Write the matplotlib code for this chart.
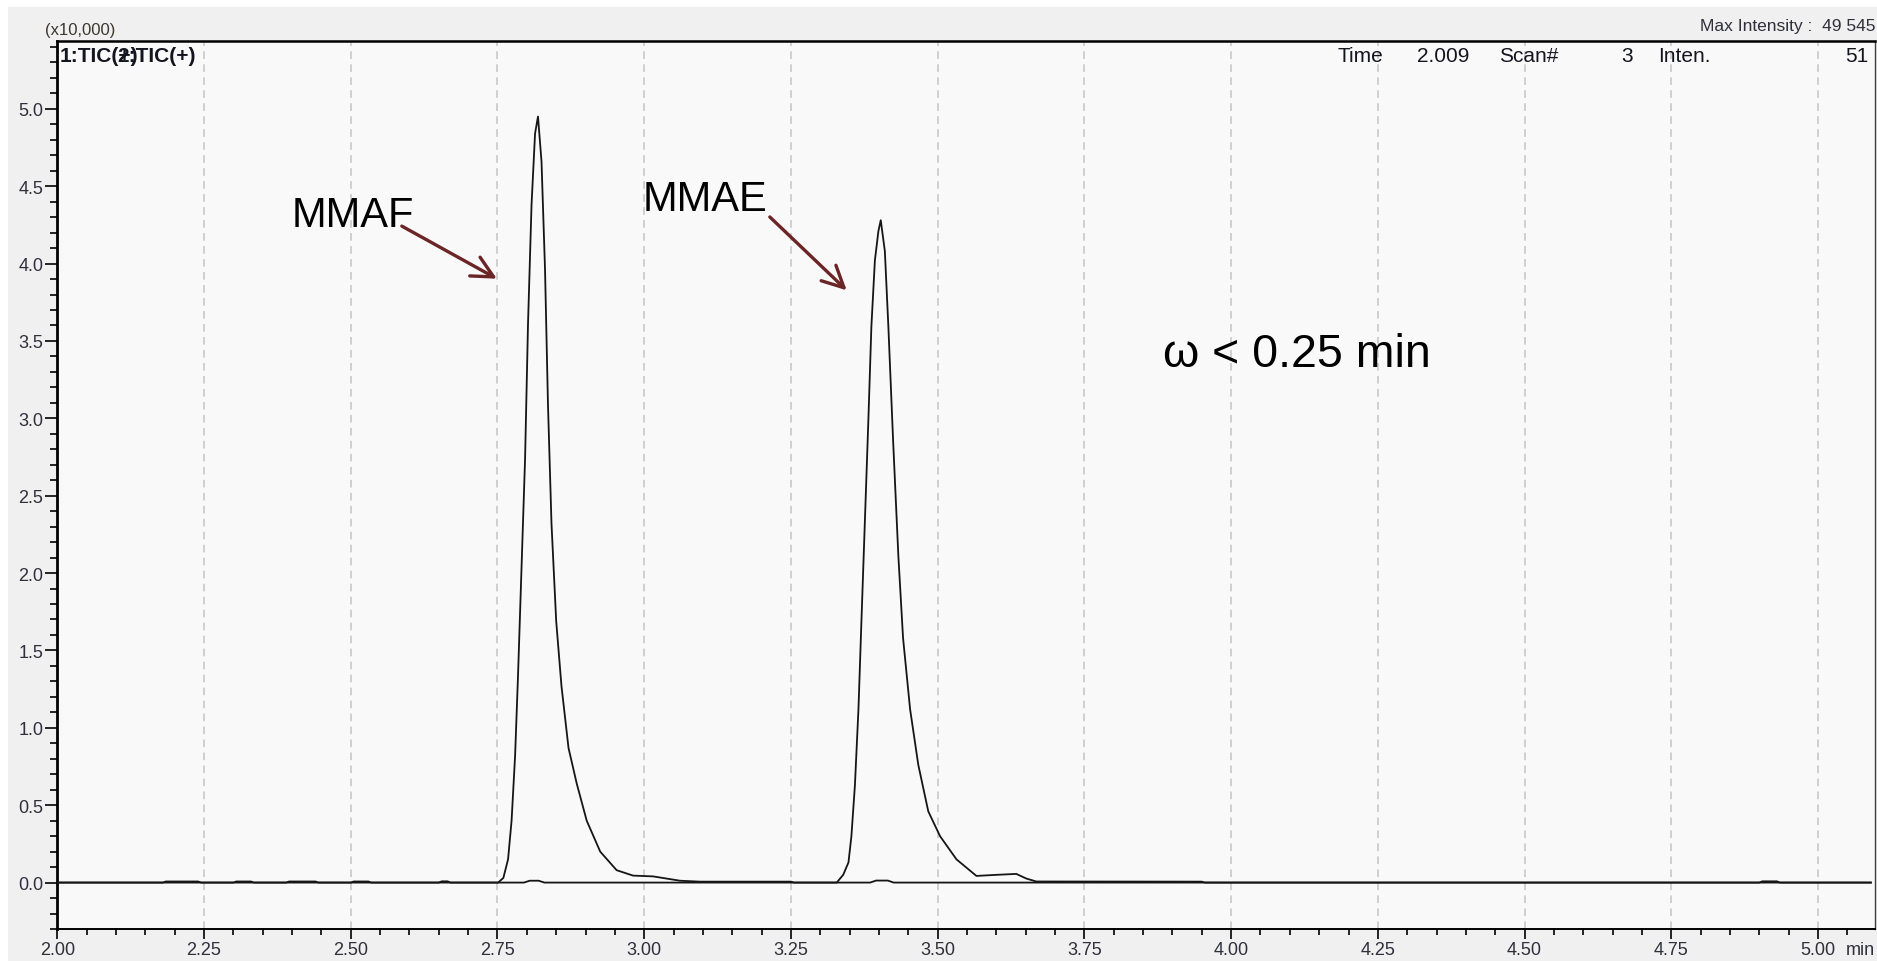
import matplotlib
matplotlib.use("Agg")
import matplotlib.pyplot as plt
from matplotlib.patches import Rectangle
from matplotlib.ticker import MultipleLocator, FormatStrFormatter

plt.rcParams['font.family'] = ['Liberation Sans', 'DejaVu Sans']

W, H = 1877, 962

# TIC 1 (MMAF), intensity in units of 10,000
mmaf_time = [2.00, 2.180, 2.185, 2.240, 2.245, 2.390, 2.395, 2.440, 2.445,
             2.650, 2.655, 2.665, 2.670, 2.751, 2.760, 2.768, 2.774, 2.780,
             2.785, 2.791, 2.797, 2.802, 2.808, 2.814, 2.819, 2.825, 2.831,
             2.836, 2.842, 2.850, 2.859, 2.871, 2.885, 2.902, 2.925, 2.953,
             2.981, 3.015, 3.061, 3.095, 3.250, 3.255, 3.385, 3.395, 3.415,
             3.425, 4.900, 4.905, 4.930, 4.935, 5.090]
mmaf_inten = [0.0, 0.0, 0.007, 0.007, 0.0, 0.0, 0.007, 0.007, 0.0,
              0.0, 0.008, 0.008, 0.0, 0.0, 0.03, 0.15, 0.40, 0.82,
              1.34, 2.04, 2.74, 3.61, 4.38, 4.84, 4.95, 4.66, 3.96,
              3.09, 2.32, 1.69, 1.27, 0.87, 0.64, 0.40, 0.20, 0.08,
              0.045, 0.04, 0.012, 0.006, 0.006, 0.0, 0.0, 0.013, 0.013,
              0.0, 0.0, 0.008, 0.008, 0.0, 0.0]

# TIC 2 (MMAE)
mmae_time = [2.00, 2.300, 2.305, 2.330, 2.335, 2.500, 2.505, 2.530, 2.535,
             2.795, 2.805, 2.820, 2.830, 3.328, 3.339, 3.348, 3.353, 3.359,
             3.365, 3.370, 3.376, 3.382, 3.387, 3.393, 3.399, 3.403, 3.410,
             3.416, 3.424, 3.433, 3.441, 3.453, 3.467, 3.484, 3.504, 3.532,
             3.566, 3.600, 3.634, 3.651, 3.668, 3.950, 3.955, 5.090]
mmae_inten = [0.0, 0.0, 0.007, 0.007, 0.0, 0.0, 0.007, 0.007, 0.0,
              0.0, 0.012, 0.012, 0.0, 0.0, 0.05, 0.13, 0.30, 0.63,
              1.12, 1.68, 2.34, 3.00, 3.59, 4.02, 4.21, 4.28, 4.08,
              3.59, 2.86, 2.11, 1.58, 1.12, 0.76, 0.46, 0.30, 0.15,
              0.043, 0.05, 0.056, 0.026, 0.007, 0.006, 0.0, 0.0]

# peak labels: (text, text position, arrow start, arrow tip)
peak_labels = [
    ("MMAF", (2.399, 4.242), (2.587, 4.242), (2.749, 3.902)),
    ("MMAE", (2.998, 4.343), (3.214, 4.301), (3.345, 3.827)),
]

fig = plt.figure(figsize=(W / 100, H / 100), dpi=100)
fig.patch.set_facecolor('white')
fig.add_artist(Rectangle((8 / W, 0), 1, 1 - 8 / H, transform=fig.transFigure,
                         facecolor='#f0f0f0', edgecolor='none', zorder=-5))

ax = fig.add_axes([57.3 / W, 1 - 930 / H, (1875 - 57.3) / W, (930 - 41.7) / H])
ax.set_facecolor('#f9f9f9')

ax.plot(mmaf_time, mmaf_inten, color='#151515', lw=1.3, zorder=3)
ax.plot(mmae_time, mmae_inten, color='#151515', lw=1.3, zorder=3)

ax.set_xlim(2.0, 5.097)
ax.set_ylim(-0.30, 5.44)

ax.xaxis.set_major_locator(MultipleLocator(0.25))
ax.xaxis.set_minor_locator(MultipleLocator(0.05))
ax.yaxis.set_major_locator(MultipleLocator(0.5))
ax.yaxis.set_minor_locator(MultipleLocator(0.1))
ax.xaxis.set_major_formatter(FormatStrFormatter('%.2f'))
ax.yaxis.set_major_formatter(FormatStrFormatter('%.1f'))

ax.tick_params(axis='both', which='both', direction='out', color='black',
               labelcolor='#30303c', labelsize=13, width=1.2)
ax.tick_params(axis='x', which='major', length=7, pad=2)
ax.tick_params(axis='x', which='minor', length=4)
ax.tick_params(axis='y', which='major', length=9, pad=1)
ax.tick_params(axis='y', which='minor', length=5)

for x in [2.25, 2.50, 2.75, 3.00, 3.25, 3.50, 3.75, 4.00, 4.25, 4.50, 4.75, 5.00]:
    ax.axvline(x, color='#c4c4c4', lw=1.1, ls=(0, (5, 3.5)), zorder=1)

ax.spines['left'].set_linewidth(2.0)
ax.spines['top'].set_linewidth(1.8)
ax.spines['bottom'].set_linewidth(1.4)
ax.spines['right'].set_linewidth(1.0)
ax.spines['right'].set_color('#404040')

for name, txt_pos, start, tip in peak_labels:
    ax.text(txt_pos[0], txt_pos[1], name, fontsize=30, ha='left',
            va='baseline', color='black', zorder=4)
    ax.annotate('', xy=tip, xytext=start,
                arrowprops=dict(arrowstyle='->,head_length=0.7,head_width=0.35',
                                color='#6b2526', lw=2.4, mutation_scale=22,
                                shrinkA=0, shrinkB=0), zorder=4)

ax.text(3.884, 3.34, 'ω < 0.25 min', fontsize=33.5, ha='left', va='baseline',
        color='black')

ax.text(5.047, -0.013, 'min', transform=ax.get_xaxis_transform(), ha='left',
        va='top', fontsize=13, color='#30303c')

# header texts (figure pixel positions)
def ftext(px, py, s, **kw):
    fig.text(px / W, 1 - py / H, s, **kw)

ftext(45, 30, '(x10,000)', fontsize=12, color='#3c3830', va='center')
ftext(1876, 27, 'Max Intensity :  49 545', fontsize=12.5, color='#30303c',
      ha='right', va='center')
hdr = dict(fontsize=15, color='#151520', va='center')
ftext(60, 57, '1:TIC(+)', fontweight='bold', **hdr)
ftext(117, 57, '2:TIC(+)', fontweight='bold', **hdr)
ftext(1337, 57, 'Time', **hdr)
ftext(1417, 57, '2.009', **hdr)
ftext(1499, 57, 'Scan#', **hdr)
ftext(1633, 57, '3', ha='right', **hdr)
ftext(1658, 57, 'Inten.', **hdr)
ftext(1868, 57, '51', ha='right', **hdr)

fig.savefig('out.png', dpi=100, facecolor=fig.get_facecolor())
